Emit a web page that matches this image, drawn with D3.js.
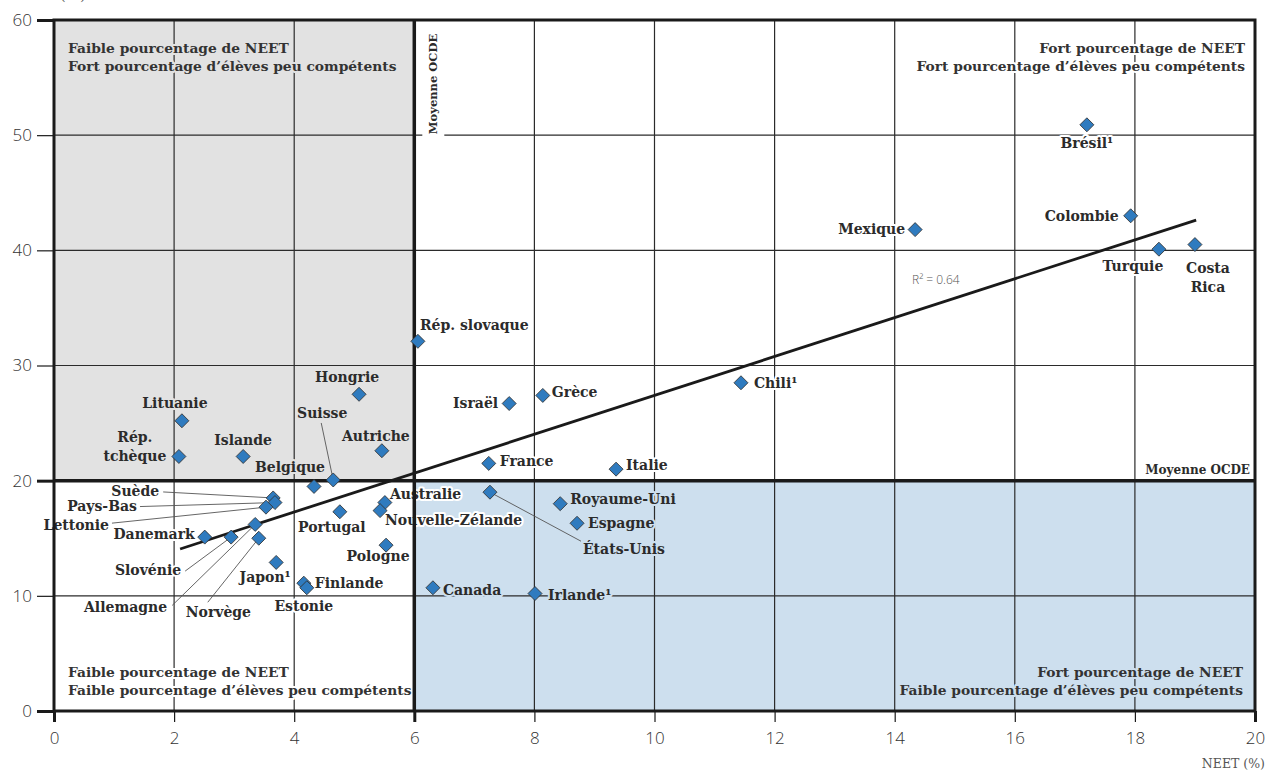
<!DOCTYPE html>
<html>
<head>
<meta charset="utf-8">
<script src="https://cdn.jsdelivr.net/npm/d3@7"></script>
<style>
  html, body { margin: 0; padding: 0; background: #fff; }
  svg { display: block; }
</style>
</head>
<body>
<svg id="chart" width="1267" height="772"></svg>
<script>
// ---------------- DATA ----------------
const countries = ["Brésil¹","Colombie","Mexique","Turquie","Costa Rica","Chili¹","Rép. slovaque","Israël","Grèce","France","Italie","États-Unis","Royaume-Uni","Espagne","Canada","Irlande¹","Lituanie","Rép. tchèque","Islande","Hongrie","Autriche","Belgique","Suisse","Portugal","Australie","Nouvelle-Zélande","Pologne","Japon¹","Finlande","Estonie","Suède","Pays-Bas","Lettonie","Danemark","Slovénie","Allemagne","Norvège"];
const neet =          [17.20, 17.93, 14.34, 18.40, 19.00, 11.44, 6.06, 7.58, 8.14, 7.24, 9.36, 7.26, 8.43, 8.71, 6.31, 8.01, 2.13, 2.08, 3.15, 5.08, 5.46, 4.33, 4.65, 4.76, 5.51, 5.43, 5.53, 3.70, 4.16, 4.21, 3.65, 3.68, 3.53, 2.51, 2.95, 3.35, 3.41];
const lowPerformers = [50.9, 43.0, 41.8, 40.1, 40.5, 28.5, 32.1, 26.7, 27.4, 21.5, 21.0, 19.0, 18.0, 16.3, 10.7, 10.2, 25.2, 22.1, 22.1, 27.5, 22.6, 19.5, 20.06, 17.3, 18.1, 17.4, 14.4, 12.9, 11.1, 10.7, 18.5, 18.1, 17.7, 15.1, 15.1, 16.2, 15.0];
const xTicks = [0, 2, 4, 6, 8, 10, 12, 14, 16, 18, 20];
const yTicks = [0, 10, 20, 30, 40, 50, 60];
const oecdMeanNeet = 6;
const oecdMeanLow = 20;
const trendNeet = [2.1, 19.02];
const trendLow = [14.07, 42.63];
const rSquared = "0.64";
const xTitle = "NEET (%)";
const meanLabel = "Moyenne OCDE";
const quadrantTexts = [
  ["Faible pourcentage de NEET", "Fort pourcentage d’élèves peu compétents"],
  ["Fort pourcentage de NEET", "Fort pourcentage d’élèves peu compétents"],
  ["Faible pourcentage de NEET", "Faible pourcentage d’élèves peu compétents"],
  ["Fort pourcentage de NEET", "Faible pourcentage d’élèves peu compétents"]
];

// ---------------- LAYOUT (label placement, px offsets from marker) ----------------
const labelLayout = {
  "Brésil¹": {dx: 0, dy: 23, a: "middle"},
  "Colombie": {dx: -12, dy: 5, a: "end"},
  "Mexique": {dx: -10, dy: 4, a: "end"},
  "Turquie": {dx: -26, dy: 22, a: "middle"},
  "Costa Rica": {dx: 13, dy: 28, a: "middle", lines: ["Costa", "Rica"]},
  "Chili¹": {dx: 13, dy: 5, a: "start"},
  "Rép. slovaque": {dx: 2, dy: -11, a: "start"},
  "Israël": {dx: -11, dy: 4, a: "end"},
  "Grèce": {dx: 9, dy: 2, a: "start"},
  "France": {dx: 11, dy: 3, a: "start"},
  "Italie": {dx: 10, dy: 1, a: "start"},
  "États-Unis": {dx: 93, dy: 62, a: "start", leader: [91, 49]},
  "Royaume-Uni": {dx: 10, dy: 0, a: "start"},
  "Espagne": {dx: 11, dy: 5, a: "start"},
  "Canada": {dx: 10, dy: 7, a: "start"},
  "Irlande¹": {dx: 13, dy: 6, a: "start"},
  "Lituanie": {dx: -7, dy: -13, a: "middle"},
  "Rép. tchèque": {dx: -44, dy: -14, a: "middle", lines: ["Rép.", "tchèque"]},
  "Islande": {dx: 0, dy: -11, a: "middle"},
  "Hongrie": {dx: -12, dy: -12, a: "middle"},
  "Autriche": {dx: -6, dy: -10, a: "middle"},
  "Belgique": {dx: -24, dy: -14, a: "middle"},
  "Suisse": {dx: -11, dy: -62, a: "middle", leader: [-12, -57]},
  "Portugal": {dx: -8, dy: 20, a: "middle"},
  "Australie": {dx: 5, dy: -4, a: "start"},
  "Nouvelle-Zélande": {dx: 5, dy: 14, a: "start"},
  "Pologne": {dx: -8, dy: 16, a: "middle"},
  "Japon¹": {dx: -11, dy: 20, a: "middle"},
  "Finlande": {dx: 11, dy: 5, a: "start"},
  "Estonie": {dx: -3, dy: 23, a: "middle"},
  "Suède": {dx: -114, dy: -2, a: "end", leader: [-110, -6]},
  "Pays-Bas": {dx: -138, dy: 8, a: "end", leader: [-135, 4]},
  "Lettonie": {dx: -157, dy: 23, a: "end", leader: [-154, 16]},
  "Danemark": {dx: -10, dy: 2, a: "end"},
  "Slovénie": {dx: -50, dy: 38, a: "end", leader: [-46, 34]},
  "Allemagne": {dx: -88, dy: 88, a: "end", leader: [-83, 81]},
  "Norvège": {dx: -73, dy: 79, a: "start", leader: [-51, 64]}
};

const COL = {gray: "#e2e2e2", blue: "#cddfee", white: "#ffffff", ink: "#2b2b2b", marker: "#2f7bbf"};
const LABEL_FONT = "'DejaVu Serif', serif";
const TICK_FONT = "'Open Sans', sans-serif";

const svg = d3.select("#chart");
const x = d3.scaleLinear().domain([0, 20]).range([54, 1255]);
const y = d3.scaleLinear().domain([0, 60]).range([711, 20]);

const data = countries.map((c, i) => ({name: c, nx: neet[i], ly: lowPerformers[i]}));

function bgAt(px, py) {
  const vx = x.invert(px), vy = y.invert(py);
  if (vx < oecdMeanNeet && vy > oecdMeanLow) return COL.gray;
  if (vx > oecdMeanNeet && vy < oecdMeanLow) return COL.blue;
  return COL.white;
}

// quadrant fills
svg.append("rect").attr("x", x(0)).attr("y", y(60)).attr("width", x(oecdMeanNeet) - x(0)).attr("height", y(oecdMeanLow) - y(60)).attr("fill", COL.gray);
svg.append("rect").attr("x", x(oecdMeanNeet)).attr("y", y(oecdMeanLow)).attr("width", x(20) - x(oecdMeanNeet)).attr("height", y(0) - y(oecdMeanLow)).attr("fill", COL.blue);

// grid
const grid = svg.append("g");
grid.selectAll("line.vx").data(xTicks.filter(t => t > 0 && t < 20 && t !== oecdMeanNeet)).join("line")
  .attr("x1", d => x(d)).attr("x2", d => x(d)).attr("y1", y(60)).attr("y2", y(0))
  .attr("stroke", COL.ink).attr("stroke-width", 1.2);
grid.selectAll("line.hy").data(yTicks.filter(t => t > 0 && t < 60 && t !== oecdMeanLow)).join("line")
  .attr("x1", x(0)).attr("x2", x(20)).attr("y1", d => y(d)).attr("y2", d => y(d))
  .attr("stroke", COL.ink).attr("stroke-width", 1.2);

// quadrant texts
const qFont = 13.8;
const qPos = [
  {x: x(0) + 14, y: 53, a: "start"},
  {x: x(20) - 10, y: 53, a: "end"},
  {x: x(0) + 14, y: 677, a: "start"},
  {x: x(20) - 12, y: 677, a: "end"}
];
quadrantTexts.forEach((lines, i) => {
  const p = qPos[i];
  const t = svg.append("text").attr("font-family", LABEL_FONT).attr("font-weight", "bold")
    .attr("font-size", qFont).attr("fill", "#333").attr("text-anchor", p.a)
    .attr("stroke", bgAt(p.x + (p.a === "end" ? -20 : 20), p.y)).attr("stroke-width", 4)
    .attr("stroke-linejoin", "round").attr("paint-order", "stroke");
  lines.forEach((l, j) => t.append("tspan").attr("x", p.x).attr("y", p.y + j * 18).text(l));
});

// point labels
const labels = svg.append("g").attr("font-family", LABEL_FONT).attr("font-weight", "bold").attr("font-size", 14).attr("fill", "#2b2b2b");
data.forEach(d => {
  const L = labelLayout[d.name];
  const px = x(d.nx) + L.dx, py = y(d.ly) + L.dy;
  const t = labels.append("text").attr("text-anchor", L.a)
    .attr("stroke", bgAt(px, py - 5)).attr("stroke-width", 4)
    .attr("stroke-linejoin", "round").attr("paint-order", "stroke");
  const lines = L.lines || [d.name];
  lines.forEach((l, j) => t.append("tspan").attr("x", px).attr("y", py + j * 19).text(l));
});

// mean lines
svg.append("line").attr("x1", x(oecdMeanNeet)).attr("x2", x(oecdMeanNeet)).attr("y1", y(60)).attr("y2", y(0)).attr("stroke", "#1a1a1a").attr("stroke-width", 3.5);
svg.append("line").attr("x1", x(0)).attr("x2", x(20)).attr("y1", y(oecdMeanLow)).attr("y2", y(oecdMeanLow)).attr("stroke", "#1a1a1a").attr("stroke-width", 3.5);

// mean labels
svg.append("rect").attr("x", x(oecdMeanNeet) + 8).attr("y", 26).attr("width", 22).attr("height", 114).attr("fill", "#fff");
svg.append("text").attr("transform", `translate(${x(oecdMeanNeet) + 23},${84}) rotate(-90)`)
  .attr("text-anchor", "middle").attr("font-family", LABEL_FONT).attr("font-weight", "bold").attr("font-size", 11.5).attr("fill", "#2b2b2b")
  .text(meanLabel);
svg.append("rect").attr("x", 1138).attr("y", y(oecdMeanLow) - 23).attr("width", x(20) - 1138).attr("height", 21).attr("fill", "#fff");
svg.append("text").attr("x", x(20) - 5).attr("y", y(oecdMeanLow) - 7)
  .attr("text-anchor", "end").attr("font-family", LABEL_FONT).attr("font-weight", "bold").attr("font-size", 12).attr("fill", "#2b2b2b")
  .text(meanLabel);

// frame
svg.append("rect").attr("x", x(0)).attr("y", y(60)).attr("width", x(20) - x(0)).attr("height", y(0) - y(60))
  .attr("fill", "none").attr("stroke", "#1a1a1a").attr("stroke-width", 3);

// axes
const xAxis = svg.append("g").attr("transform", `translate(0,${y(0)})`)
  .call(d3.axisBottom(x).tickValues(xTicks).tickSize(11).tickPadding(10).tickFormat(d3.format("d")));
xAxis.select(".domain").remove();
xAxis.selectAll(".tick line").attr("stroke", "#1a1a1a").attr("stroke-width", d => (d === 0 || d === 6 || d === 20) ? 3 : 1.2);
xAxis.selectAll(".tick text").attr("font-family", TICK_FONT).attr("font-weight", 300).attr("font-size", 17).attr("fill", "#333");

const yAxis = svg.append("g").attr("transform", `translate(${x(0)},0)`)
  .call(d3.axisLeft(y).tickValues(yTicks).tickSize(17).tickPadding(5).tickFormat(d3.format("d")));
yAxis.select(".domain").remove();
yAxis.selectAll(".tick line").attr("stroke", "#1a1a1a").attr("stroke-width", d => (d === 0 || d === 20 || d === 60) ? 3 : 1.2);
yAxis.selectAll(".tick text").attr("font-family", TICK_FONT).attr("font-weight", 300).attr("font-size", 17).attr("fill", "#333");

// axis titles
svg.append("text").attr("x", 1265).attr("y", 768).attr("text-anchor", "end")
  .attr("font-family", LABEL_FONT).attr("font-size", 12.5).attr("fill", "#555").text(xTitle);
svg.append("text").attr("x", 60).attr("y", 0).attr("font-family", LABEL_FONT).attr("font-size", 15).attr("fill", "#555").text("(%)");

// trend line
svg.append("line").attr("x1", x(trendNeet[0])).attr("y1", y(trendLow[0])).attr("x2", x(trendNeet[1])).attr("y2", y(trendLow[1]))
  .attr("stroke", "#1a1a1a").attr("stroke-width", 2.8);
svg.append("text").attr("x", 912).attr("y", 284).attr("font-family", TICK_FONT).attr("font-weight", 300).attr("font-size", 12).attr("fill", "#555")
  .text(`R² = ${rSquared}`);

// leader lines
const leaders = svg.append("g");
data.forEach(d => {
  const L = labelLayout[d.name];
  if (!L.leader) return;
  leaders.append("line").attr("x1", x(d.nx) + L.leader[0]).attr("y1", y(d.ly) + L.leader[1])
    .attr("x2", x(d.nx)).attr("y2", y(d.ly)).attr("stroke", "#555").attr("stroke-width", 0.9);
});

// markers
svg.append("g").selectAll("path").data(data).join("path")
  .attr("transform", d => `translate(${x(d.nx)},${y(d.ly)}) rotate(45)`)
  .attr("d", d3.symbol(d3.symbolSquare, 98)())
  .attr("fill", COL.marker).attr("stroke", "#333").attr("stroke-width", 0.8);
</script>
</body>
</html>
